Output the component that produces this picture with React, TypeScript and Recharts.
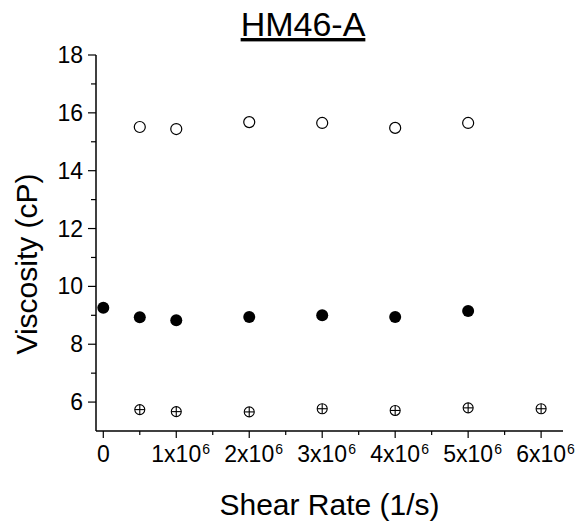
import { ScatterChart, Scatter, XAxis, YAxis } from "recharts";

const FONT = "'Liberation Sans', Arial, sans-serif";

const openX = [500000, 1000000, 2000000, 3000000, 4000000, 5000000];
const openY = [15.51, 15.44, 15.68, 15.65, 15.48, 15.65];

const filledX = [0, 500000, 1000000, 2000000, 3000000, 4000000, 5000000];
const filledY = [9.26, 8.93, 8.83, 8.94, 9.0, 8.94, 9.15];

const crossX = [500000, 1000000, 2000000, 3000000, 4000000, 5000000, 6000000];
const crossY = [5.74, 5.67, 5.66, 5.77, 5.71, 5.8, 5.77];

const xTicks = [0, 500000, 1000000, 1500000, 2000000, 2500000, 3000000, 3500000, 4000000, 4500000, 5000000, 5500000, 6000000];
const yTicks = [6, 7, 8, 9, 10, 11, 12, 13, 14, 15, 16, 17, 18];

const toPoints = (xs: number[], ys: number[]) => xs.map((x, i) => ({ x, y: ys[i] }));

const openData = toPoints(openX, openY);
const filledData = toPoints(filledX, filledY);
const crossData = toPoints(crossX, crossY);

function OpenDot(props: any) {
  const { cx, cy } = props;
  return <circle cx={cx} cy={cy} r={5.5} fill="#fff" stroke="#000" strokeWidth={1.2} />;
}

function FilledDot(props: any) {
  const { cx, cy } = props;
  return <circle cx={cx} cy={cy} r={6} fill="#000" />;
}

function CrossDot(props: any) {
  const { cx, cy } = props;
  const r = 5;
  return (
    <g stroke="#000" strokeWidth={1.1} fill="#fff">
      <circle cx={cx} cy={cy} r={r} />
      <line x1={cx - r} y1={cy} x2={cx + r} y2={cy} />
      <line x1={cx} y1={cy - r} x2={cx} y2={cy + r} />
    </g>
  );
}

function XTick(props: any) {
  const { x, y, payload } = props;
  const v = payload.value;
  const major = v % 1000000 === 0;
  const n = v / 1000000;
  return (
    <g>
      <line x1={x} y1={y} x2={x} y2={y + (major ? 7 : 4)} stroke="#000" strokeWidth={1.2} />
      {major && n === 0 && (
        <text x={x} y={y + 31} textAnchor="middle" fontSize={23} fontFamily={FONT} fill="#000">0</text>
      )}
      {major && n > 0 && (
        <g>
          <text x={x} y={y + 31} textAnchor="middle" fontSize={23} fontFamily={FONT} fill="#000">
            {`${n}x10`}
          </text>
          <text x={x + 26} y={y + 23} textAnchor="start" fontSize={14} fontFamily={FONT} fill="#000">6</text>
        </g>
      )}
    </g>
  );
}

function YTick(props: any) {
  const { x, y, payload } = props;
  const v = payload.value;
  const major = v % 2 === 0;
  return (
    <g>
      <line x1={x - (major ? 8 : 5)} y1={y} x2={x} y2={y} stroke="#000" strokeWidth={1.2} />
      {major && (
        <text x={x - 13} y={y + 8} textAnchor="end" fontSize={23} fontFamily={FONT} fill="#000">
          {v}
        </text>
      )}
    </g>
  );
}

function YLabel(props: any) {
  const vb = props.viewBox || { x: 0, y: 55, width: 96, height: 376 };
  const cx = 37;
  const cy = vb.y + vb.height / 2 + 21;
  return (
    <text x={cx} y={cy} transform={`rotate(-90 ${cx} ${cy})`} textAnchor="middle" fontSize={30} fontFamily={FONT} fill="#000">
      Viscosity (cP)
    </text>
  );
}

export default function App() {
  return (
    <div style={{ position: "absolute", left: 0, top: 0, width: 575, height: 524, background: "#fff" }}>
      <ScatterChart width={575} height={524} margin={{ top: 55, right: 12, bottom: 0, left: 0 }}>
        <XAxis
          type="number"
          dataKey="x"
          domain={[-100000, 6300000]}
          ticks={xTicks}
          interval={0}
          allowDataOverflow
          tick={<XTick />}
          tickLine={false}
          tickSize={0}
          tickMargin={0}
          height={93}
          axisLine={{ stroke: "#000", strokeWidth: 1.5 }}
          label={{
            value: "Shear Rate (1/s)",
            position: "insideBottom",
            offset: 9,
            fill: "#000",
            fontSize: 30,
            fontFamily: FONT,
          }}
        />
        <YAxis
          type="number"
          dataKey="y"
          domain={[5, 18]}
          ticks={yTicks}
          interval={0}
          allowDataOverflow
          tick={<YTick />}
          tickLine={false}
          tickSize={0}
          tickMargin={0}
          width={96}
          axisLine={{ stroke: "#000", strokeWidth: 1.5 }}
          label={{ content: <YLabel /> }}
        />
        <Scatter data={openData} shape={<OpenDot />} isAnimationActive={false} />
        <Scatter data={filledData} shape={<FilledDot />} isAnimationActive={false} />
        <Scatter data={crossData} shape={<CrossDot />} isAnimationActive={false} />
      </ScatterChart>
      <svg width={575} height={60} style={{ position: "absolute", left: 0, top: 0, pointerEvents: "none" }}>
        <text
          x={303}
          y={36}
          textAnchor="middle"
          fontSize={34}
          fontFamily={FONT}
          fill="#000"
          style={{ textDecoration: "underline" }}
        >
          HM46-A
        </text>
      </svg>
    </div>
  );
}
